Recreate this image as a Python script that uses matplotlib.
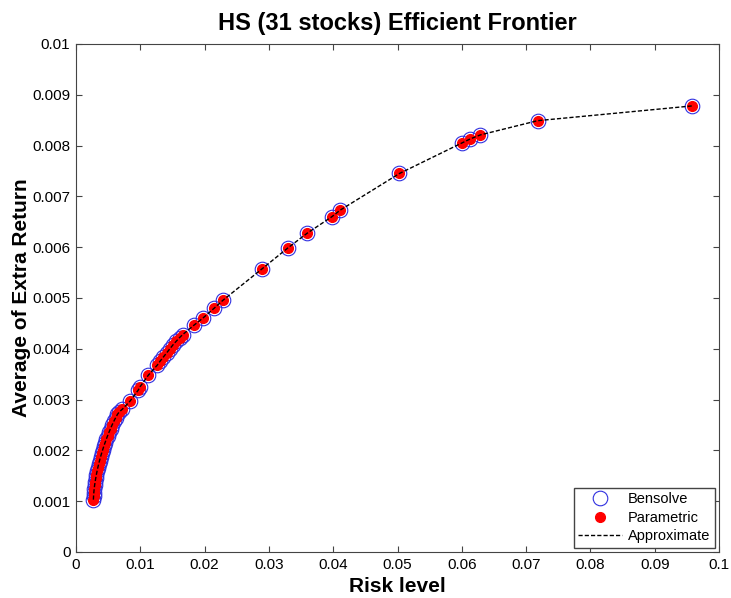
import numpy as np
import matplotlib.pyplot as plt

# === Frontier points (risk, average extra return) ===
risk = [0.00270, 0.00273, 0.00277, 0.00282, 0.00289, 0.00297, 0.00306,
        0.00316, 0.00327, 0.00339, 0.00352, 0.00366, 0.00381, 0.00397,
        0.00414, 0.00432, 0.00451, 0.00471, 0.00492, 0.00514, 0.00537,
        0.00561, 0.00587, 0.00615, 0.00645, 0.00675, 0.00720,
        0.0084, 0.0097, 0.00995, 0.01125, 0.01265, 0.0131, 0.0136,
        0.0141, 0.0146, 0.0151, 0.0156, 0.0161, 0.0166,
        0.0184, 0.0197, 0.0215, 0.0229, 0.0289, 0.0329, 0.0359,
        0.0398, 0.0411, 0.0503, 0.0600, 0.0613, 0.0629, 0.0718, 0.0958]
ret = [0.00103, 0.00110, 0.00117, 0.00124, 0.00131, 0.00138, 0.00145,
       0.00152, 0.00159, 0.00166, 0.00173, 0.00180, 0.00187, 0.00194,
       0.00201, 0.00208, 0.00215, 0.00222, 0.00229, 0.00236, 0.00243,
       0.00250, 0.00257, 0.00264, 0.00271, 0.00276, 0.00281,
       0.00297, 0.00319, 0.00325, 0.00348, 0.00368, 0.00376, 0.00384,
       0.00392, 0.00400, 0.00408, 0.00415, 0.00422, 0.00428,
       0.00447, 0.00460, 0.00480, 0.00496, 0.00557, 0.00598, 0.00627,
       0.00660, 0.00673, 0.00745, 0.00805, 0.00813, 0.00821, 0.00849, 0.00878]

xtick_labels = ['0', '0.01', '0.02', '0.03', '0.04', '0.05', '0.06',
                '0.07', '0.08', '0.09', '0.1']
ytick_labels = ['0', '0.001', '0.002', '0.003', '0.004', '0.005', '0.006',
                '0.007', '0.008', '0.009', '0.01']

plt.rcParams['font.family'] = ['Liberation Sans', 'DejaVu Sans']

fig = plt.figure(figsize=(7.31, 5.98), dpi=100)
ax = fig.add_axes([0.104, 0.077, 0.8796, 0.8495])

ax.plot(risk, ret, 'o', markersize=10.5, markerfacecolor='none',
        markeredgecolor='#3030e0', markeredgewidth=0.8, label='Bensolve')
ax.plot(risk, ret, 'o', markersize=7, color='red', markeredgecolor='red',
        label='Parametric')
ax.plot(risk, ret, '--', color='black', linewidth=1.0, dashes=(3, 1.5),
        label='Approximate')

ax.set_xlim(0, 0.1)
ax.set_ylim(0, 0.01)
ax.set_xticks(np.linspace(0, 0.1, 11))
ax.set_yticks(np.linspace(0, 0.01, 11))
ax.set_xticklabels(xtick_labels)
ax.set_yticklabels(ytick_labels)
ax.tick_params(direction='in', top=True, right=True, length=4.5, pad=4,
               labelsize=11, color='#444444')
for s in ax.spines.values():
    s.set_color('#444444')

ax.set_xlabel('Risk level', fontsize=15, fontweight='bold', labelpad=4)
ax.set_ylabel('Average of Extra Return', fontsize=15, fontweight='bold', labelpad=1)
ax.set_title('HS (31 stocks) Efficient Frontier', fontsize=17, fontweight='bold', pad=10)

leg = ax.legend(loc='lower right', fontsize=10.5, fancybox=False, framealpha=1,
                edgecolor='#444444', borderaxespad=0.3, handlelength=3.0,
                handletextpad=0.4, labelspacing=0.3, borderpad=0.3)

fig.savefig('out.png', dpi=100)
